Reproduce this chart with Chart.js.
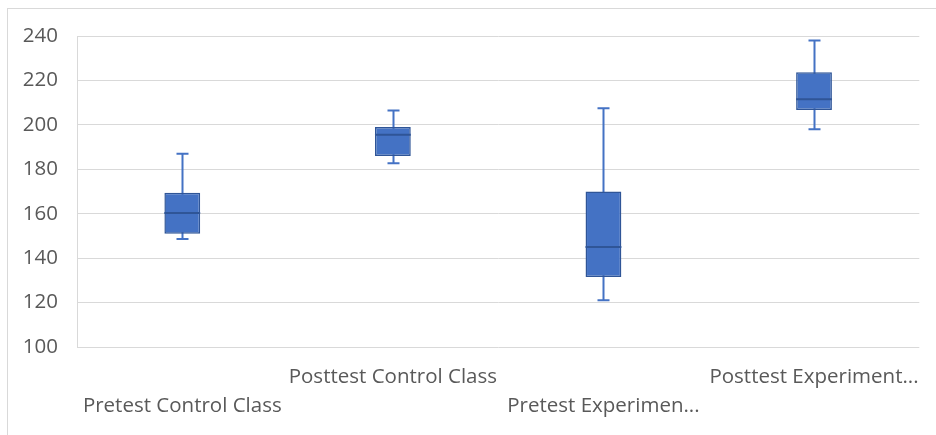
<!DOCTYPE html>
<html>
<head>
<meta charset="utf-8">
<script src="https://cdn.jsdelivr.net/npm/chart.js@4.4.1/dist/chart.umd.min.js"></script>
<style>
  html, body { margin: 0; padding: 0; background: #fff; }
  #wrap { position: relative; width: 936px; height: 435px; overflow: hidden; }
  #frame { position: absolute; left: 7px; top: 8px; width: 940px; height: 440px; border: 1px solid #d9d9d9; box-sizing: border-box; }
  canvas { position: absolute; left: 0; top: 0; }
</style>
</head>
<body>
<div id="wrap">
  <div id="frame"></div>
  <canvas id="boxChart" width="936" height="435"></canvas>
</div>
<script>
// categories and values
const categories = ['Pretest Control Class', 'Posttest Control Class', 'Pretest Experimental Class', 'Posttest Experimental Class'];
const tickLabels = ['Pretest Control Class', 'Posttest Control Class', 'Pretest Experimen...', 'Posttest Experiment...'];
const minValues = [148.6, 182.7, 121, 198];
const q1Values = [151, 186, 131.5, 206.7];
const medianValues = [160.3, 195.5, 145, 211.5];
const q3Values = [169.4, 199, 170, 223.7];
const maxValues = [187, 206.5, 207.5, 238];
const yTicks = [100, 120, 140, 160, 180, 200, 220, 240];

const boxFill = '#4472C4';
const boxEdge = '#2F5597';

// whiskers drawn behind the boxes, medians on top
const whiskerPlugin = {
    id: 'whiskers',
    beforeDatasetsDraw(chart) {
        const ctx = chart.ctx;
        const y = chart.scales.y;
        const meta = chart.getDatasetMeta(0);
        ctx.save();
        ctx.strokeStyle = boxFill;
        ctx.lineWidth = 2;
        meta.data.forEach((bar, i) => {
            const x = Math.round(bar.x) + 0.5;
            const top = y.getPixelForValue(maxValues[i]);
            const bottom = y.getPixelForValue(minValues[i]);
            ctx.beginPath();
            ctx.moveTo(x, top);
            ctx.lineTo(x, bottom);
            ctx.moveTo(x - 6, top);
            ctx.lineTo(x + 6, top);
            ctx.moveTo(x - 6, bottom);
            ctx.lineTo(x + 6, bottom);
            ctx.stroke();
        });
        ctx.restore();
    },
    afterDatasetsDraw(chart) {
        const ctx = chart.ctx;
        const y = chart.scales.y;
        const meta = chart.getDatasetMeta(0);
        ctx.save();
        ctx.strokeStyle = boxEdge;
        ctx.lineWidth = 2;
        meta.data.forEach((bar, i) => {
            const half = bar.width / 2;
            const my = y.getPixelForValue(medianValues[i]);
            ctx.beginPath();
            ctx.moveTo(bar.x - half, my);
            ctx.lineTo(bar.x + half, my);
            ctx.stroke();
        });
        ctx.restore();
    }
};

const ctx = document.getElementById('boxChart').getContext('2d');
const boxChart = new Chart(ctx, {
    type: 'bar',
    data: {
        labels: categories,
        datasets: [{
            data: q1Values.map((q1, i) => [q1, q3Values[i]]),
            backgroundColor: boxFill,
            borderColor: boxEdge,
            borderWidth: 1.5,
            borderSkipped: false,
            barPercentage: 0.17,
            categoryPercentage: 1
        }]
    },
    options: {
        responsive: false,
        animation: false,
        layout: { padding: { top: 36, right: 11, left: 0, bottom: 0 } },
        plugins: { legend: { display: false }, tooltip: { enabled: false } },
        scales: {
            x: {
                grid: { display: false, drawTicks: false },
                border: { display: false },
                afterFit(scale) { scale.height = 88; },
                ticks: {
                    autoSkip: false,
                    maxRotation: 0,
                    padding: 16,
                    color: '#595959',
                    font: { family: 'Open Sans', size: 20.5, lineHeight: 1.4 },
                    callback: (v, i) => (i % 2 === 0 ? ['', tickLabels[i]] : [tickLabels[i]])
                }
            },
            y: {
                min: 100,
                max: 240,
                afterFit(scale) { scale.width = 77; },
                afterBuildTicks(scale) { scale.ticks = yTicks.map(v => ({ value: v })); },
                grid: { color: '#d9d9d9', lineWidth: 1, drawTicks: false },
                border: { display: true, color: '#d9d9d9' },
                ticks: {
                    padding: 19,
                    color: '#595959',
                    font: { family: 'Open Sans', size: 20.5 }
                }
            }
        }
    },
    plugins: [whiskerPlugin]
});
</script>
</body>
</html>
